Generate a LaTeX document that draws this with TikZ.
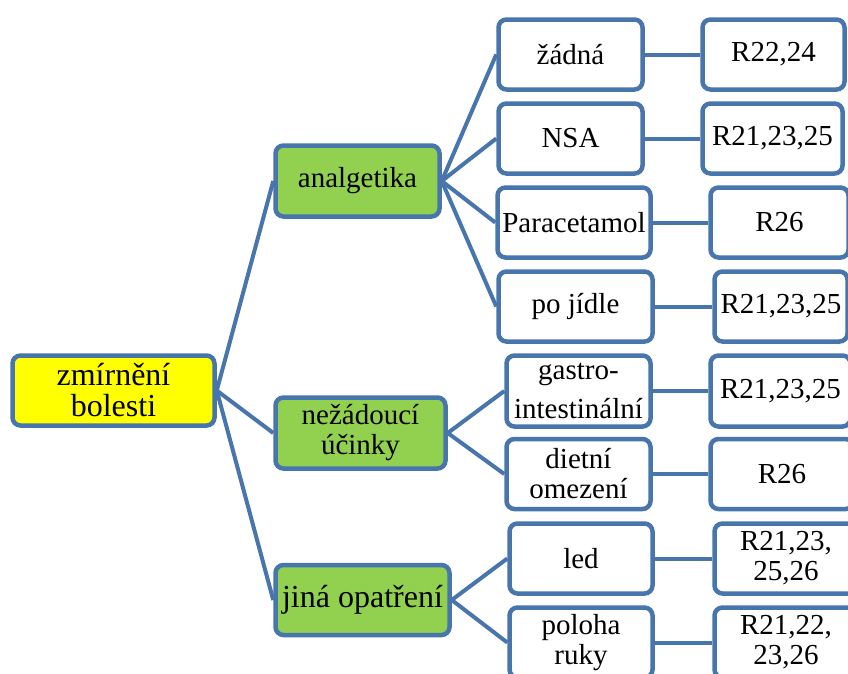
\documentclass[tikz,border=0pt]{standalone}
\usepackage{fontspec}
\setmainfont{Liberation Serif}
\definecolor{bline}{RGB}{72,118,172}
\definecolor{bgreen}{RGB}{146,208,80}
\definecolor{byellow}{RGB}{255,255,0}
\begin{document}
\begin{tikzpicture}[x=1pt,y=-1pt,
  box/.style={draw=bline, line width=4.5pt, rounded corners=8pt, fill=white, inner sep=0pt,
    align=center, font=\fontsize{29}{30}\selectfont, minimum height=70pt},
  gbox/.style={box, fill=bgreen},
  conn/.style={draw=bline, line width=4pt}]
\useasboundingbox (0,0) rectangle (848,673);
\clip (0,0) rectangle (848,673);
\fill[white] (0,0) rectangle (848,673);
% level 0
\node[box, fill=byellow, minimum width=202pt, font=\fontsize{32}{31}\selectfont] (root) at (113.5,390.5) {zmírnění\\bolesti};
% level 1
\node[gbox, minimum width=164pt, minimum height=71pt] (an) at (357.5,181) {analgetika};
\node[gbox, minimum width=170pt, minimum height=71pt] (ne) at (360.5,433) {nežádoucí\\účinky};
\node[gbox, minimum width=174pt, font=\fontsize{32}{31}\selectfont] (ji) at (362.5,600) {jiná opatření};
% level 2
\node[box, minimum width=144pt] (a1) at (570.5,54.5) {žádná};
\node[box, minimum width=144pt] (a2) at (570.5,138.5) {NSA};
\node[box, minimum width=153pt] (a3) at (574,222.5) {Paracetamol};
\node[box, minimum width=154pt] (a4) at (575.5,306.5) {po jídle};
\node[box, minimum width=144pt, minimum height=71pt, font=\fontsize{29}{39}\selectfont] (n1) at (578.5,391) {gastro-\\intestinální};
\node[box, minimum width=144pt] (n2) at (578.5,474) {dietní\\omezení};
\node[box, minimum width=143pt] (j1) at (581,558.5) {led};
\node[box, minimum width=143pt] (j2) at (581,642.5) {poloha\\ruky};
% level 3
\node[box, minimum width=142pt] (r1) at (773.5,54.5) {R22,24};
\node[box, minimum width=140pt] (r2) at (772.5,138.5) {R21,23,25};
\node[box, minimum width=138pt] (r3) at (779.5,222.5) {R26};
\node[box, minimum width=133pt] (r4) at (781,306.5) {R21,23,25};
\node[box, minimum width=140pt, minimum height=71pt] (r5) at (780.5,391) {R21,23,25};
\node[box, minimum width=143pt] (r6) at (782,474) {R26};
\node[box, minimum width=143pt] (r7) at (786,558.5) {R21,23,\\25,26};
\node[box, minimum width=143pt] (r8) at (786,642.5) {R21,22,\\23,26};
% connectors
\foreach \c in {an,ne,ji} \draw[conn] (root.east) -- (\c.west);
\foreach \c in {a1,a2,a3,a4} \draw[conn] (an.east) -- (\c.west);
\foreach \c in {n1,n2} \draw[conn] (ne.east) -- (\c.west);
\foreach \c in {j1,j2} \draw[conn] (ji.east) -- (\c.west);
\draw[conn] (a1.east) -- (r1.west);
\draw[conn] (a2.east) -- (r2.west);
\draw[conn] (a3.east) -- (r3.west);
\draw[conn] (a4.east) -- (r4.west);
\draw[conn] (n1.east) -- (r5.west);
\draw[conn] (n2.east) -- (r6.west);
\draw[conn] (j1.east) -- (r7.west);
\draw[conn] (j2.east) -- (r8.west);
\end{tikzpicture}
\end{document}
